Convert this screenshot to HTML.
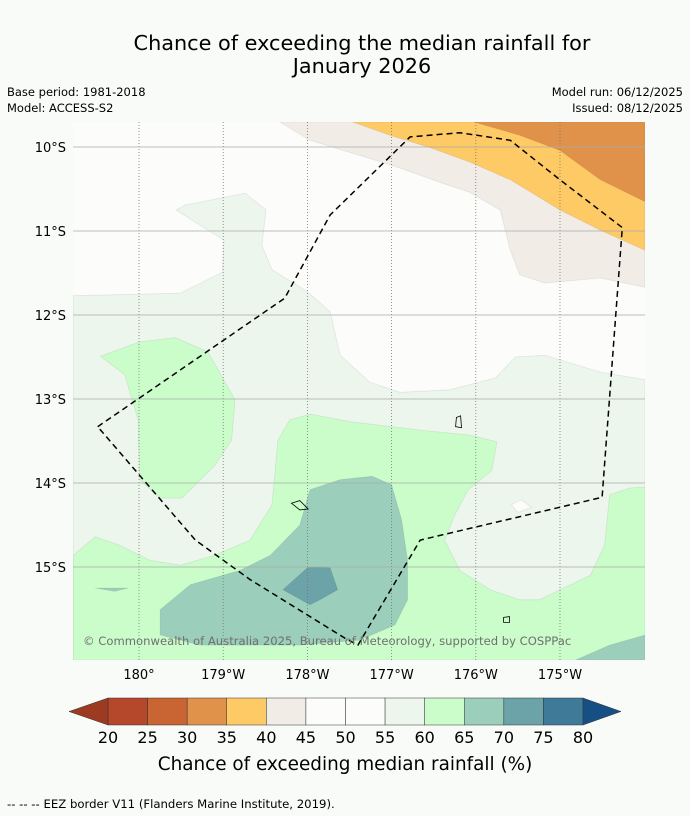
<!DOCTYPE html>
<html><head><meta charset="utf-8"><style>
body{margin:0;background:#f9fbf9;}
svg{display:block;font-family:"DejaVu Sans","Liberation Sans",sans-serif;}
</style></head><body>
<svg id="chart" width="690" height="816" viewBox="0 0 690 816">
<rect width="690" height="816" fill="#f9fbf9"/>
<text x="362" y="50" font-size="20.8" text-anchor="middle" fill="#000">Chance of exceeding the median rainfall for</text>
<text x="362" y="73" font-size="20.8" text-anchor="middle" fill="#000">January 2026</text>
<text x="7" y="96" font-size="11.5">Base period: 1981-2018</text>
<text x="7" y="112" font-size="11.5">Model: ACCESS-S2</text>
<text x="683" y="96" font-size="11.5" text-anchor="end">Model run: 06/12/2025</text>
<text x="683" y="112" font-size="11.5" text-anchor="end">Issued: 08/12/2025</text>
<defs><clipPath id="mapclip"><rect x="73" y="122" width="572" height="538"/></clipPath></defs>
<g id="map" clip-path="url(#mapclip)">
<rect x="73" y="122" width="572" height="538" fill="#fcfdfb"/>
<g id="contours"></g>
<g id="grid"></g>
<g id="islands"></g>
<path id="eez" fill="none" stroke="#000" stroke-width="1.5" stroke-dasharray="6,4"/>
<text x="83" y="645" font-size="11.6" fill="#6f6f6f">© Commonwealth of Australia 2025, Bureau of Meteorology, supported by COSPPac</text>
</g>
<g id="axes"></g>
<g id="colorbar"></g>
<text x="345" y="770" font-size="18.4" text-anchor="middle">Chance of exceeding median rainfall (%)</text>
<text x="7" y="808" font-size="11.7">--  --  -- EEZ border V11 (Flanders Marine Institute, 2019).</text>
</svg>
<script>
// degrees west of 180 (0 = 180°, 1 = 179°W ...), latitude in °S
const lonTicks = [0,1,2,3,4,5];
const lonTickLabels = ["180°","179°W","178°W","177°W","176°W","175°W"];
const latTicks = [10,11,12,13,14,15];
const latTickLabels = ["10°S","11°S","12°S","13°S","14°S","15°S"];
const cbLevels = [20,25,30,35,40,45,50,55,60,65,70,75,80];
const cbColors = ["#b5472b","#c96533","#e0924a","#fdca65","#f1ece6","#fcfdfb","#fcfdfb","#ecf6ec","#cbfdcb","#9bcfbb","#6ba3a8","#3f7a98"];
const cbUnder = "#9c3a22", cbOver = "#164f84";

const regionLightGreen = [[-0.78,11.77],[0.49,11.74],[0.99,11.49],[1.01,11.11],[0.44,10.75],[0.55,10.69],[1.26,10.55],[1.51,10.75],[1.46,11.17],[1.58,11.46],[2.01,11.73],[2.27,11.96],[2.39,12.48],[2.74,12.80],[3.10,12.92],[3.69,12.89],[4.23,12.75],[4.47,12.50],[4.82,12.48],[5.48,12.68],[6.01,12.77],[6.01,16.11],[-0.78,16.11]];
const regionBeige = [[1.67,9.70],[2.03,9.92],[2.62,10.10],[3.10,10.25],[3.57,10.42],[3.93,10.54],[4.29,10.75],[4.41,11.23],[4.52,11.52],[4.82,11.62],[5.48,11.56],[6.01,11.67],[6.01,9.70]];
const regionOrange = [[2.53,9.70],[2.98,9.86],[3.46,10.01],[3.93,10.18],[4.41,10.39],[5.00,10.75],[5.48,10.99],[6.01,11.23],[6.01,9.70]];
const regionDarkOrange = [[3.97,9.70],[4.52,9.86],[5.00,10.04],[5.48,10.39],[6.01,10.65],[6.01,9.70]];
const regionGreenWest = [[-0.46,12.49],[0.01,12.32],[0.43,12.27],[0.82,12.44],[1.14,13.01],[1.10,13.49],[0.90,13.79],[0.51,14.18],[0.25,14.18],[0.01,13.96],[-0.01,13.25],[-0.17,12.71]];
const regionGreenSouth = [[-0.78,14.86],[-0.52,14.64],[-0.23,14.74],[0.13,14.92],[0.49,14.98],[0.90,14.86],[1.32,14.68],[1.58,14.26],[1.65,13.49],[1.79,13.25],[2.03,13.18],[2.51,13.27],[3.34,13.37],[3.93,13.43],[4.25,13.51],[4.19,13.85],[3.91,14.08],[3.75,14.38],[3.63,14.68],[3.81,15.04],[4.17,15.27],[4.52,15.39],[4.76,15.39],[5.00,15.27],[5.36,15.10],[5.53,14.74],[5.59,14.14],[5.83,14.06],[6.01,14.05],[6.01,16.11],[-0.78,16.11]];
const regionTeal = [[0.25,15.51],[0.61,15.21],[1.20,15.04],[1.56,14.86],[1.91,14.50],[2.03,14.08],[2.39,13.96],[2.77,13.92],[3.00,14.02],[3.12,14.44],[3.19,14.92],[3.19,15.39],[3.04,15.69],[2.62,15.87],[1.91,15.93],[0.72,15.93],[0.25,15.81]];
const regionTealSE = [[5.18,16.11],[5.59,15.93],[6.01,15.81],[6.01,16.11]];
const regionTealSliver = [[-0.52,15.25],[-0.13,15.25],[-0.29,15.29]];
const regionDarkTeal = [[1.71,15.27],[2.01,15.00],[2.27,15.01],[2.36,15.27],[2.15,15.39],[2.03,15.45]];
const regionWhiteHole = [[4.42,14.26],[4.54,14.20],[4.66,14.29],[4.50,14.35]];
const eezBorder = [[-0.49,13.33],[1.73,11.80],[2.27,10.81],[3.22,9.88],[3.81,9.83],[4.41,9.92],[5.00,10.39],[5.74,10.96],[5.50,14.17],[3.34,14.68],[2.60,15.93],[2.45,15.85],[1.32,15.15],[0.67,14.68],[-0.49,13.33]];
const islandA = [[1.81,14.24],[1.91,14.21],[2.01,14.31],[1.91,14.32]];
const islandB = [[3.77,13.22],[3.82,13.20],[3.83,13.34],[3.76,13.33]];
const islandC = [[4.33,15.60],[4.40,15.59],[4.40,15.66],[4.33,15.66]];

const xS = d => 139 + 84.2*d;
const yS = lat => 147 + 84*(lat-10);
const NS = "http://www.w3.org/2000/svg";
const pathOf = (pts, close) => pts.map((p,i)=>(i?"L":"M")+xS(p[0]).toFixed(1)+","+yS(p[1]).toFixed(1)).join(" ")+(close?" Z":"");

const cg = document.getElementById("contours");
const fills = [
 [regionLightGreen,"#ecf6ec","contour-55-60"],
 [regionBeige,"#f1ece6","contour-40-45"],
 [regionOrange,"#fdca65","contour-35-40"],
 [regionDarkOrange,"#e0924a","contour-30-35"],
 [regionWhiteHole,"#fcfdfb","contour-50-55-hole"],
 [regionGreenWest,"#cbfdcb","contour-60-65-west"],
 [regionGreenSouth,"#cbfdcb","contour-60-65-south"],
 [regionTeal,"#9bcfbb","contour-65-70"],
 [regionTealSE,"#9bcfbb","contour-65-70-southeast"],
 [regionTealSliver,"#9bcfbb","contour-65-70-sliver"],
 [regionDarkTeal,"#6ba3a8","contour-70-75"]
];
fills.forEach(f=>{
  const p = document.createElementNS(NS,"path");
  p.setAttribute("d", pathOf(f[0],true));
  p.setAttribute("fill", f[1]);
  p.setAttribute("stroke", "rgba(0,0,0,0.08)");
  p.setAttribute("stroke-width", "0.8");
  
  
  cg.appendChild(p);
});

const gg = document.getElementById("grid");
lonTicks.forEach(d=>{
  const l = document.createElementNS(NS,"line");
  l.setAttribute("x1",xS(d)); l.setAttribute("x2",xS(d));
  l.setAttribute("y1",122); l.setAttribute("y2",660);
  l.setAttribute("stroke","#777"); l.setAttribute("stroke-width","0.8"); l.setAttribute("stroke-dasharray","1,2");
  
  
  gg.appendChild(l);
});
latTicks.forEach(v=>{
  const l = document.createElementNS(NS,"line");
  l.setAttribute("x1",73); l.setAttribute("x2",645);
  l.setAttribute("y1",yS(v)); l.setAttribute("y2",yS(v));
  l.setAttribute("stroke","#aaa"); l.setAttribute("stroke-width","0.8");
  
  
  gg.appendChild(l);
});

const ig = document.getElementById("islands");
[islandA,islandB,islandC].forEach(isl=>{
  const p = document.createElementNS(NS,"path");
  p.setAttribute("d", pathOf(isl,true));
  p.setAttribute("fill","none"); p.setAttribute("stroke","#000"); p.setAttribute("stroke-width","0.8");
  
  
  ig.appendChild(p);
});
document.getElementById("eez").setAttribute("d", pathOf(eezBorder,false));

const ag = document.getElementById("axes");
lonTicks.forEach((d,i)=>{
  const t = document.createElementNS(NS,"text");
  t.setAttribute("x",xS(d)); t.setAttribute("y",679);
  t.setAttribute("font-size","13"); t.setAttribute("text-anchor","middle");
  t.textContent = lonTickLabels[i];
  
  
  ag.appendChild(t);
});
latTicks.forEach((v,i)=>{
  const t = document.createElementNS(NS,"text");
  t.setAttribute("x",66); t.setAttribute("y",yS(v)+5);
  t.setAttribute("font-size","13"); t.setAttribute("text-anchor","end");
  t.textContent = latTickLabels[i];
  
  
  ag.appendChild(t);
});

// colorbar
const cb = document.getElementById("colorbar");
const cbX0 = 108, cbX1 = 583, cbY = 698, cbH = 27;
const cbx = v => cbX0 + (v-cbLevels[0])/(cbLevels[cbLevels.length-1]-cbLevels[0])*(cbX1-cbX0);
cbColors.forEach((c,i)=>{
  const r = document.createElementNS(NS,"rect");
  r.setAttribute("x",cbx(cbLevels[i])); r.setAttribute("y",cbY);
  r.setAttribute("width",cbx(cbLevels[i+1])-cbx(cbLevels[i])); r.setAttribute("height",cbH);
  r.setAttribute("fill",c); r.setAttribute("stroke","#333"); r.setAttribute("stroke-width","0.5");
  
  
  cb.appendChild(r);
});
const under = document.createElementNS(NS,"polygon");
under.setAttribute("points",`${cbX0},${cbY} ${cbX0-39},${cbY+cbH/2} ${cbX0},${cbY+cbH}`);
under.setAttribute("fill",cbUnder); under.setAttribute("stroke","#333"); under.setAttribute("stroke-width","0.5");


cb.appendChild(under);
const over = document.createElementNS(NS,"polygon");
over.setAttribute("points",`${cbX1},${cbY} ${cbX1+38},${cbY+cbH/2} ${cbX1},${cbY+cbH}`);
over.setAttribute("fill",cbOver); over.setAttribute("stroke","#333"); over.setAttribute("stroke-width","0.5");


cb.appendChild(over);
cbLevels.forEach(v=>{
  const t = document.createElementNS(NS,"text");
  t.setAttribute("x",cbx(v)); t.setAttribute("y",743);
  t.setAttribute("font-size","16"); t.setAttribute("text-anchor","middle");
  t.textContent = v;
  
  
  cb.appendChild(t);
});
</script>
</body></html>
